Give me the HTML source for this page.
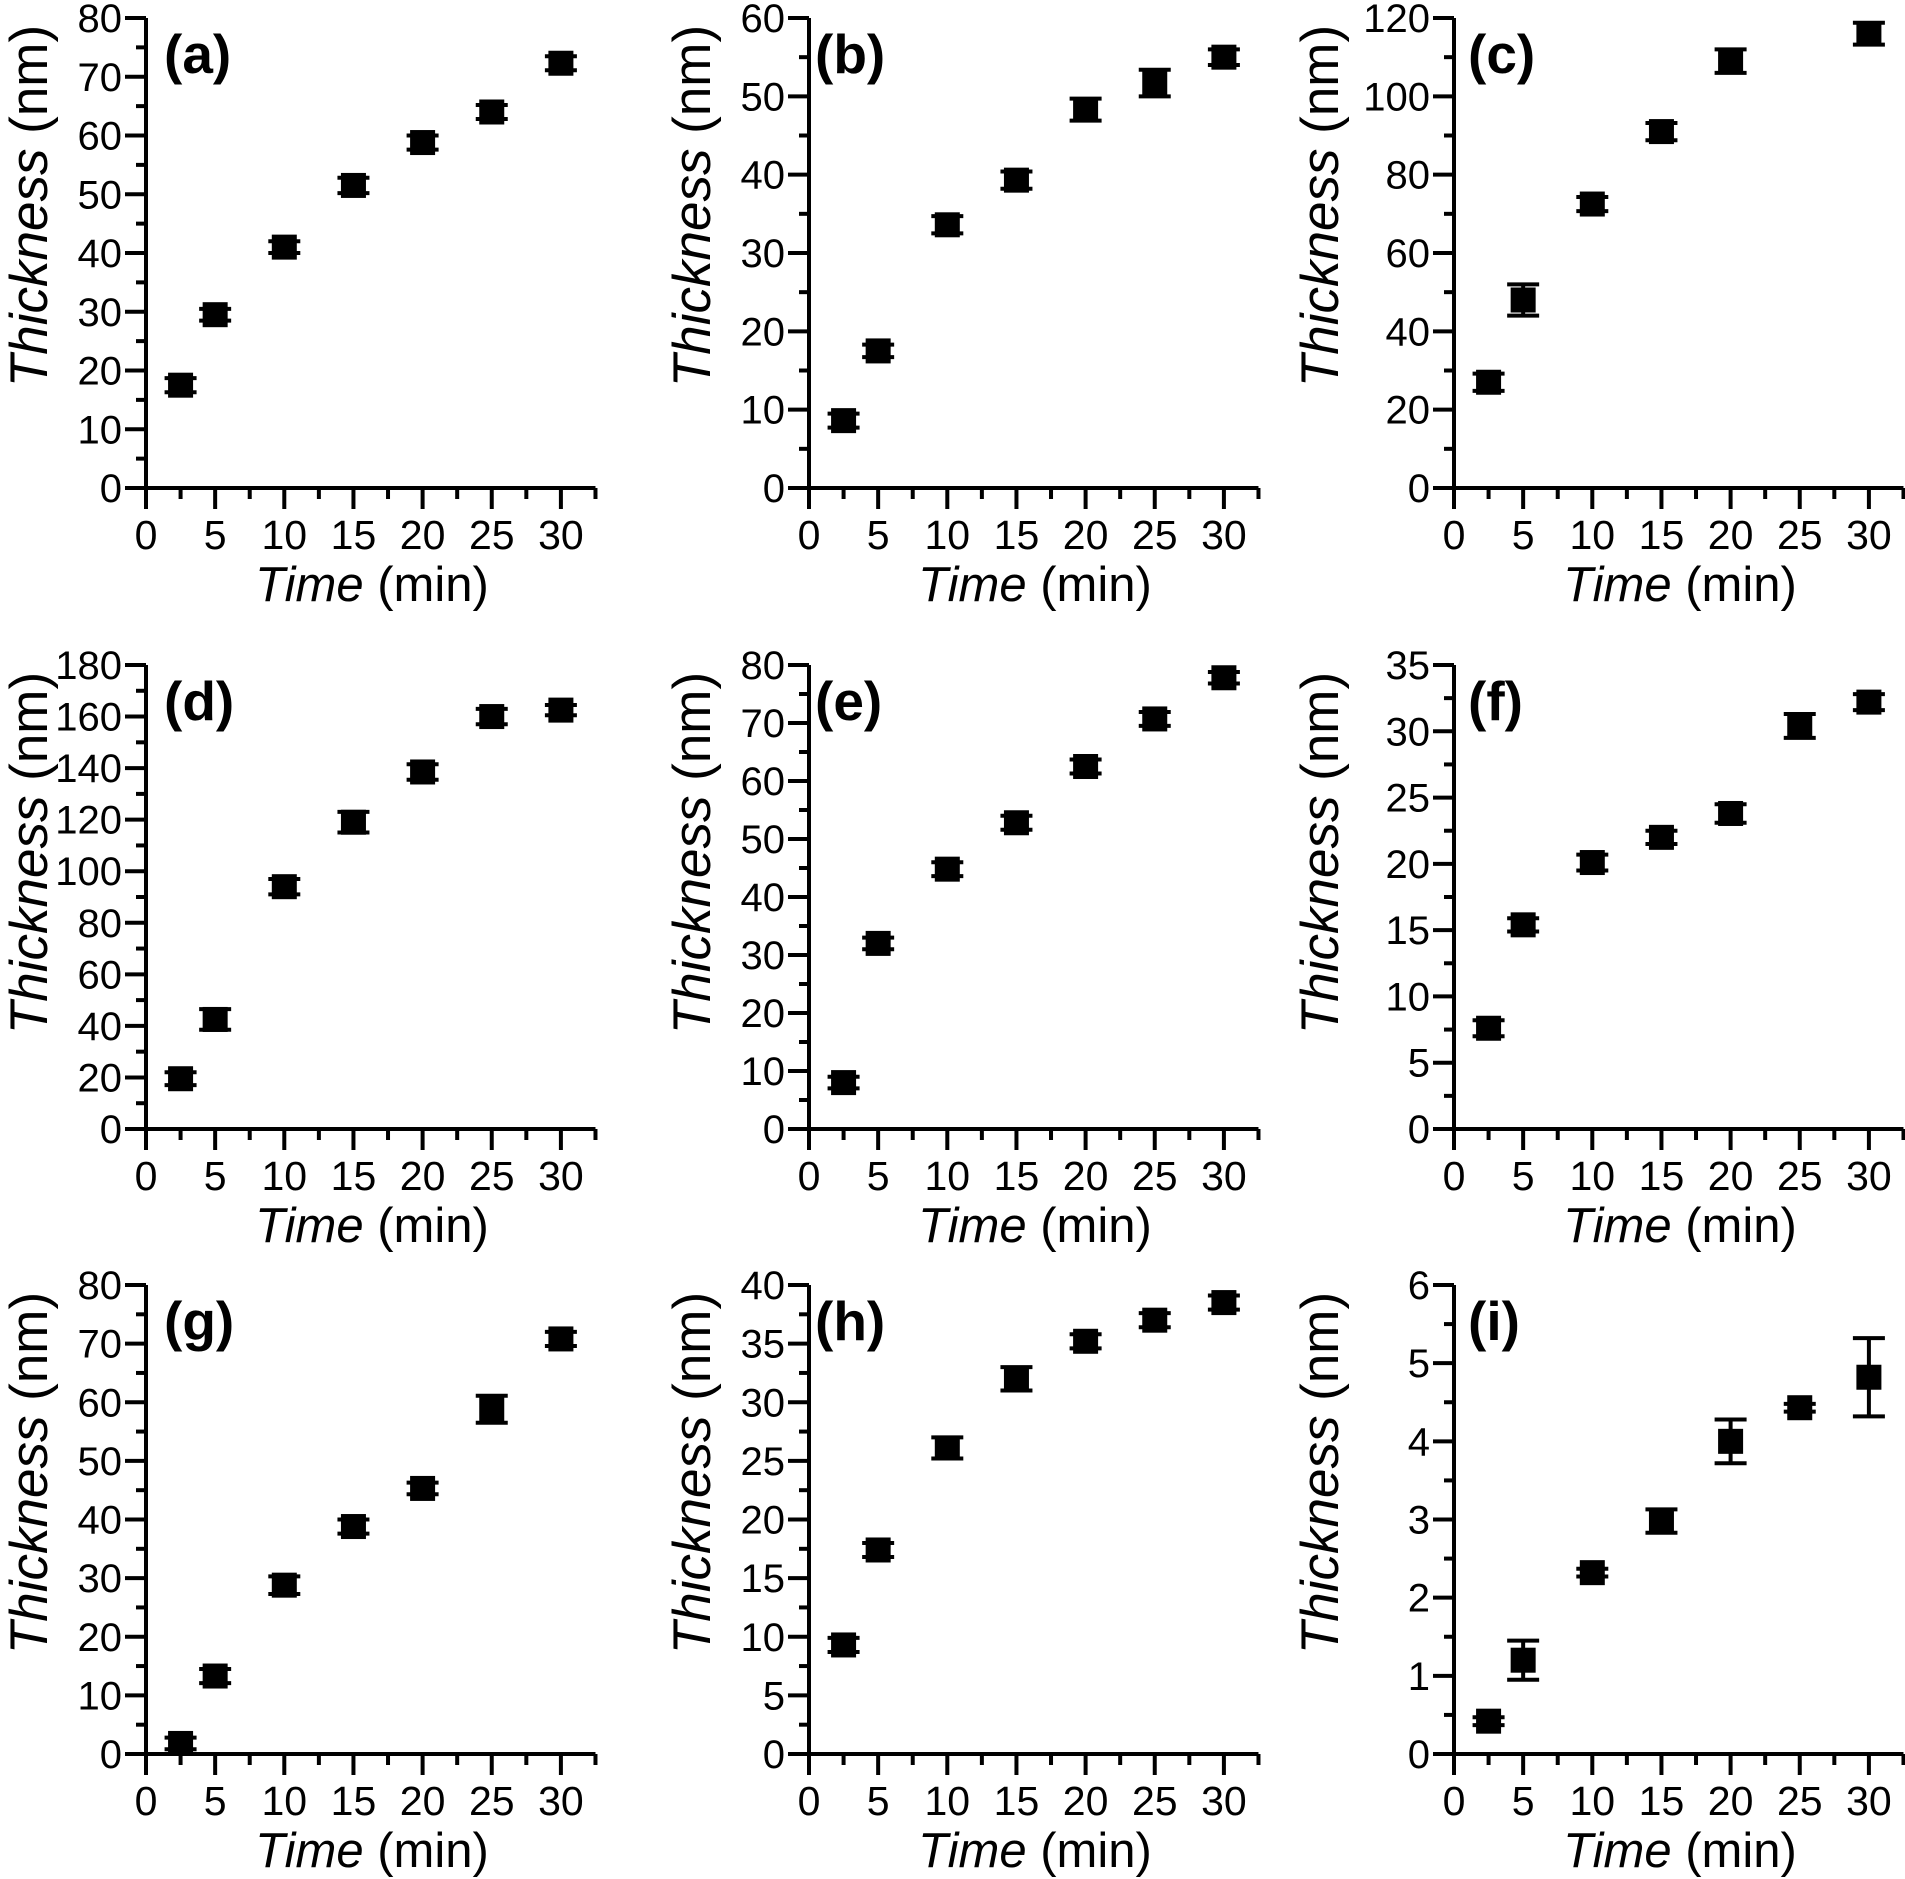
<!DOCTYPE html>
<html><head><meta charset="utf-8"><style>
html,body{margin:0;padding:0;background:#fff;}
svg{display:block;font-family:"Liberation Sans",Arial,sans-serif;}
</style></head><body>
<svg id="fig" width="1905" height="1879" viewBox="0 0 1905 1879"></svg>
<script>
const times = [2.5, 5, 10, 15, 20, 25, 30];
const timesC = [2.5, 5, 10, 15, 20, 30];
const panelLabels = ['(a)','(b)','(c)','(d)','(e)','(f)','(g)','(h)','(i)'];
const yMaxes = [80, 60, 120, 180, 80, 35, 80, 40, 6];
const yMajorSteps = [10, 10, 20, 20, 10, 5, 10, 5, 1];
const valsA = [17.5, 29.5, 41, 51.5, 58.8, 64, 72.3];
const errA  = [1.2, 1.0, 1.0, 1.3, 1.2, 1.2, 1.2];
const valsB = [8.6, 17.5, 33.6, 39.3, 48.3, 51.7, 55];
const errB  = [0.9, 0.8, 1.1, 1.1, 1.4, 1.7, 1.0];
const valsC = [27, 48, 72.5, 91, 109, 116];
const errC  = [2.2, 4, 1.8, 2.2, 3, 2.8];
const valsD = [19.5, 42.5, 94, 119, 138.5, 160, 162.5];
const errD  = [2.5, 4, 3, 4, 3, 3, 2];
const valsE = [8, 32, 44.8, 52.8, 62.5, 70.7, 77.8];
const errE  = [1.0, 1.0, 1.2, 1.2, 1.2, 1.2, 1.0];
const valsF = [7.6, 15.4, 20.1, 22, 23.8, 30.4, 32.2];
const errF  = [0.6, 0.5, 0.6, 0.5, 0.7, 0.9, 0.6];
const valsG = [1.8, 13.3, 28.8, 38.8, 45.3, 58.8, 70.8];
const errG  = [1.0, 1.2, 1.5, 1.2, 1.0, 2.3, 1.2];
const valsH = [9.3, 17.4, 26.1, 32, 35.2, 37, 38.5];
const errH  = [0.6, 0.6, 0.9, 1.0, 0.6, 0.6, 0.6];
const valsI = [0.42, 1.2, 2.32, 2.98, 4.0, 4.43, 4.82];
const errI  = [0.05, 0.25, 0.05, 0.15, 0.28, 0.05, 0.5];

const allX = [times, times, timesC, times, times, times, times, times, times];
const allY = [valsA, valsB, valsC, valsD, valsE, valsF, valsG, valsH, valsI];
const allE = [errA, errB, errC, errD, errE, errF, errG, errH, errI];

const NS = 'http://www.w3.org/2000/svg';
const svg = document.getElementById('fig');
const colAxis = [146, 809, 1454];
const colTitle = [28, 691, 1319];
const colLabelOff = [18, 6, 14];
const rowTop = [18, 665, 1285];
const rowBot = [488, 1129, 1754];
const xScale = 13.83;

function mk(tag, attrs, parent){
  const e = document.createElementNS(NS, tag);
  for (const k in attrs) e.setAttribute(k, attrs[k]);
  (parent||svg).appendChild(e);
  return e;
}

for (let p = 0; p < 9; p++) {
  const c = p % 3, r = Math.floor(p / 3);
  const ax = colAxis[c], top = rowTop[r], bot = rowBot[r];
  const g = mk('g', {});
  
  
  const xf = v => ax + v * xScale;
  const yf = v => bot - v / yMaxes[p] * (bot - top);
  const axes = mk('path', {d:`M${ax},${top} V${bot} H${xf(32.5)}`, fill:'none', stroke:'#000', 'stroke-width':4}, g);
  
  
  const st = yMajorSteps[p];
  for (let v = 0; v <= yMaxes[p] + 1e-9; v += st / 2) {
    const major = Math.abs(Math.round(v / st) * st - v) < 1e-9;
    const y = yf(v);
    mk('line', {x1:ax - (major ? 21 : 10), x2:ax, y1:y, y2:y, stroke:'#000', 'stroke-width':4}, g);
    if (major) {
      const t = mk('text', {x:ax - 24, y:y + 14, 'text-anchor':'end', 'font-size':40}, g);
      t.textContent = String(Math.round(v * 100) / 100);
      
      
    }
  }
  for (let v = 0; v <= 32.5 + 1e-9; v += 2.5) {
    const major = Math.abs(v % 5) < 1e-9;
    const x = xf(v);
    mk('line', {x1:x, x2:x, y1:bot, y2:bot + (major ? 21 : 11), stroke:'#000', 'stroke-width':4}, g);
    if (major) {
      const t = mk('text', {x:x, y:bot + 61, 'text-anchor':'middle', 'font-size':41}, g);
      t.textContent = String(v);
      
      
    }
  }
  const xt = mk('text', {x:ax + 226, y:bot + 113, 'text-anchor':'middle', 'font-size':49}, g);
  xt.innerHTML = '<tspan font-style="italic">Time</tspan> (min)';
  
  
  const yc = top + 188;
  const yt = mk('text', {x:0, y:0, transform:`translate(${colTitle[c] + 19},${yc}) rotate(-90)`, 'text-anchor':'middle', 'font-size':53}, g);
  yt.innerHTML = '<tspan font-style="italic">Thickness</tspan> (nm)';
  
  
  const pl = mk('text', {x:ax + colLabelOff[c], y:top + 55, 'font-size':55, 'font-weight':'bold'}, g);
  pl.textContent = panelLabels[p];
  
  
  const xs = allX[p], ys = allY[p], es = allE[p];
  for (let i = 0; i < ys.length; i++) {
    const cx = xf(xs[i]), cy = yf(ys[i]);
    const y1 = yf(ys[i] + es[i]), y2 = yf(ys[i] - es[i]);
    const eb = mk('path', {d:`M${cx},${y1} V${y2} M${cx-16},${y1} H${cx+16} M${cx-16},${y2} H${cx+16}`, stroke:'#000', 'stroke-width':4, fill:'none'}, g);
    
    
    const m = mk('rect', {x:cx - 12.5, y:cy - 12.5, width:25, height:25, fill:'#000'}, g);
    
    
  }
}
</script>
</body></html>
